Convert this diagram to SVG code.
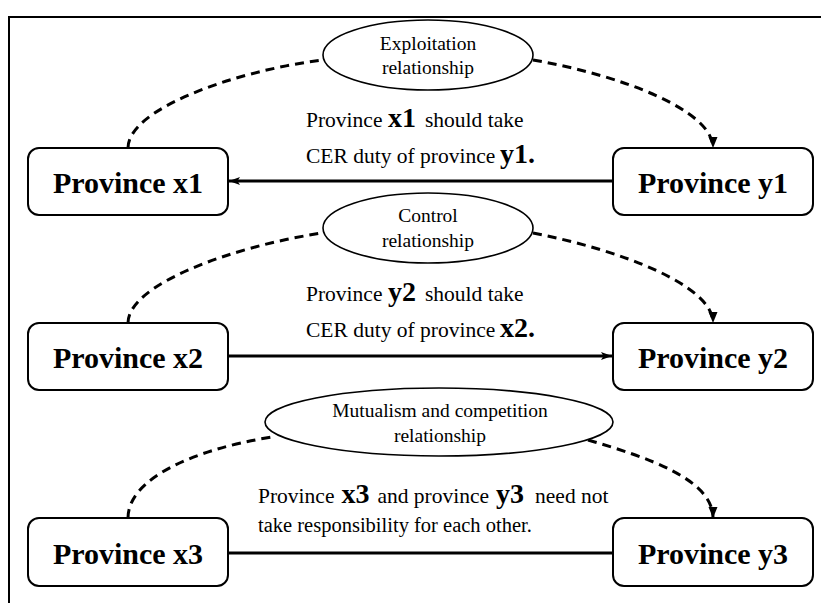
<svg xmlns="http://www.w3.org/2000/svg" width="821" height="603" viewBox="0 0 821 603">
<style>
.box{fill:#fff;stroke:#000;stroke-width:2}
.ell{fill:#fff;stroke:#000;stroke-width:1.6}
.bt{font-family:"Liberation Serif","Times New Roman",serif;font-weight:bold;font-size:30px;text-anchor:middle;fill:#000}
.et{font-family:"Liberation Serif","Times New Roman",serif;font-size:19.5px;text-anchor:middle;fill:#000}
.mt{font-family:"Liberation Serif","Times New Roman",serif;font-size:21.5px;fill:#000}
.b{font-weight:bold;font-size:28px}
.dash{fill:none;stroke:#000;stroke-width:3;stroke-dasharray:9 6}
.solid{fill:none;stroke:#000;stroke-width:3}
</style>
<defs>
<marker id="ah" markerUnits="userSpaceOnUse" markerWidth="12" markerHeight="12" viewBox="0 0 12 12" refX="11" refY="6" orient="auto"><path d="M0,1.5 L11,6 L0,10.5 z" fill="#000"/></marker>
<marker id="ahs" markerUnits="userSpaceOnUse" markerWidth="12" markerHeight="12" viewBox="0 0 12 12" refX="11" refY="6" orient="auto"><path d="M0,2 L11,6 L0,10 L2.5,6 z" fill="#000"/></marker>
</defs>
<rect x="9" y="17" width="900" height="700" fill="none" stroke="#000" stroke-width="2"/>
<g id="connectors">
<path class="dash" d="M128,148 C128,110 230,72 322,60"/>
<path class="dash" d="M533,60 C620,75 713,110 713,148" marker-end="url(#ah)"/>
<path class="solid" d="M613,181 L229,181" marker-end="url(#ahs)"/>
<path class="dash" d="M128,323 C128,285 230,247 322,233"/>
<path class="dash" d="M533,233 C620,250 713,285 713,323" marker-end="url(#ah)"/>
<path class="solid" d="M228,356 L612,356" marker-end="url(#ahs)"/>
<path class="dash" d="M128,518 C128,480 190,450 272,437"/>
<path class="dash" d="M588,440 C650,458 713,480 713,518" marker-end="url(#ah)"/>
<path class="solid" d="M228,553 L613,553"/>
</g>
<g id="rel1">
<ellipse class="ell" cx="428" cy="55" rx="105" ry="35"/>
<text class="et" x="428" y="50">Exploitation</text>
<text class="et" x="428" y="74">relationship</text>
</g>
<g id="rel2">
<ellipse class="ell" cx="428" cy="228" rx="105" ry="35"/>
<text class="et" x="428" y="222">Control</text>
<text class="et" x="428" y="247">relationship</text>
</g>
<g id="rel3">
<ellipse class="ell" cx="439" cy="422" rx="174" ry="34"/>
<text class="et" x="440" y="417">Mutualism and competition</text>
<text class="et" x="440" y="442">relationship</text>
</g>
<g id="label1">
<text class="mt" y="127"><tspan x="306">Province</tspan><tspan class="b" x="388">x1</tspan><tspan x="425">should take</tspan></text>
<text class="mt" y="163"><tspan x="306">CER duty of province</tspan><tspan class="b" x="500">y1.</tspan></text>
</g>
<g id="label2">
<text class="mt" y="301"><tspan x="306">Province</tspan><tspan class="b" x="388">y2</tspan><tspan x="425">should take</tspan></text>
<text class="mt" y="337"><tspan x="306">CER duty of province</tspan><tspan class="b" x="500">x2.</tspan></text>
</g>
<g id="label3">
<text class="mt" y="503"><tspan x="258">Province</tspan><tspan class="b" dx="7">x3</tspan><tspan dx="8">and province</tspan><tspan class="b" dx="7">y3</tspan><tspan dx="11">need not</tspan></text>
<text class="mt" x="258" y="532" style="font-size:20.5px">take responsibility for each other.</text>
</g>
<g id="x1"><rect class="box" x="28" y="148" width="200" height="67" rx="11"/><text class="bt" x="128" y="193">Province x1</text></g>
<g id="y1"><rect class="box" x="613" y="148" width="200" height="67" rx="11"/><text class="bt" x="713" y="193">Province y1</text></g>
<g id="x2"><rect class="box" x="28" y="323" width="200" height="67" rx="11"/><text class="bt" x="128" y="368">Province x2</text></g>
<g id="y2"><rect class="box" x="613" y="323" width="200" height="67" rx="11"/><text class="bt" x="713" y="368">Province y2</text></g>
<g id="x3"><rect class="box" x="28" y="518" width="200" height="68" rx="11"/><text class="bt" x="128" y="564">Province x3</text></g>
<g id="y3"><rect class="box" x="613" y="518" width="200" height="68" rx="11"/><text class="bt" x="713" y="564">Province y3</text></g>
</svg>
